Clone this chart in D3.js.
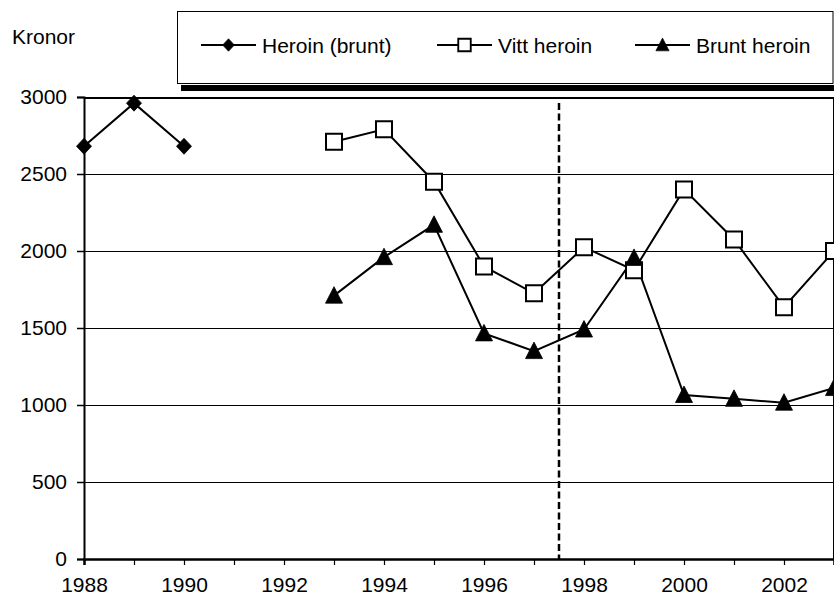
<!DOCTYPE html>
<html>
<head>
<meta charset="utf-8">
<script src="https://cdn.jsdelivr.net/npm/d3@7"></script>
<style>
  body { margin: 0; background: #fff; }
  svg { display: block; font-family: "Liberation Sans", Arial, sans-serif; }
</style>
</head>
<body>
<svg id="chart" width="834" height="598"></svg>
<script>
// data
const yearsEarly = [1988, 1989, 1990]
const heroinBrunt = [2680, 2960, 2680]

const yearsLate = [1993, 1994, 1995, 1996, 1997, 1998, 1999, 2000, 2001, 2002, 2003]
const vittHeroin = [2710, 2790, 2450, 1900, 1725, 2025, 1875, 2400, 2075, 1635, 2000]
const bruntHeroin = [1710, 1960, 2170, 1465, 1350, 1490, 1955, 1065, 1040, 1015, 1110]

const yTicks = [0, 500, 1000, 1500, 2000, 2500, 3000]
const xLabels = [1988, 1990, 1992, 1994, 1996, 1998, 2000, 2002]
const dividerYear = 1997.5

const legendNames = ['Heroin (brunt)', 'Vitt heroin', 'Brunt heroin']

const FONT = '"Liberation Sans", Arial, sans-serif'
const FS = 21

const svg = d3.select('#chart')
const m = { left: 84, right: 834, top: 97, bottom: 559 }

const x = d3.scaleLinear().domain([1988, 2003]).range([m.left, m.left + 750])
const y = d3.scaleLinear().domain([0, 3000]).range([m.bottom, m.top])

// grid
svg.append('g')
  .attr('shape-rendering', 'crispEdges')
  .selectAll('line')
  .data(yTicks.filter(d => d > 0))
  .enter().append('line')
  .attr('x1', m.left).attr('x2', m.right)
  .attr('y1', d => Math.round(y(d)) + 0.5).attr('y2', d => Math.round(y(d)) + 0.5)
  .attr('stroke', '#000').attr('stroke-width', d => d === 3000 ? 2 : 1)

// right frame
svg.append('line')
  .attr('x1', x(2003) - 0.5).attr('x2', x(2003) - 0.5)
  .attr('y1', m.top).attr('y2', m.bottom)
  .attr('stroke', '#000').attr('stroke-width', 1)

// y axis
const yAxis = svg.append('g')
  .attr('transform', `translate(${m.left},0)`)
  .call(d3.axisLeft(y).tickValues(yTicks).tickSize(7).tickPadding(10).tickFormat(d3.format('d')))
yAxis.select('.domain').attr('stroke-width', 2)
yAxis.selectAll('.tick line').attr('stroke-width', 1.5)
yAxis.selectAll('text').attr('font-size', FS).attr('fill', '#000').attr('font-family', FONT)

// x axis
const xAxis = svg.append('g')
  .attr('transform', `translate(0,${m.bottom})`)
  .call(d3.axisBottom(x).tickValues(d3.range(1988, 2004)).tickSize(6).tickPadding(12)
    .tickFormat(d => xLabels.includes(d) ? d : ''))
xAxis.select('.domain').attr('stroke-width', 2.5)
xAxis.selectAll('.tick line').attr('stroke-width', 1.2)
xAxis.selectAll('text').attr('font-size', FS).attr('fill', '#000').attr('font-family', FONT)

// dashed divider
svg.append('line')
  .attr('x1', x(dividerYear)).attr('x2', x(dividerYear))
  .attr('y1', m.top + 6).attr('y2', m.bottom)
  .attr('stroke', '#000').attr('stroke-width', 2.5)
  .attr('stroke-dasharray', '7,3.5')

const line = d3.line().x(d => x(d[0])).y(d => y(d[1]))

const s1 = yearsEarly.map((yr, i) => [yr, heroinBrunt[i]])
const s2 = yearsLate.map((yr, i) => [yr, vittHeroin[i]])
const s3 = yearsLate.map((yr, i) => [yr, bruntHeroin[i]])

;[s1, s2, s3].forEach(s => {
  svg.append('path').datum(s).attr('d', line)
    .attr('fill', 'none').attr('stroke', '#000').attr('stroke-width', 2)
})

const diamond = 'M0,-8L7.5,0L0,8L-7.5,0Z'
const square = 'M-8,-8H8V8H-8Z'
const triangle = 'M0,-9L8.5,7.5L-8.5,7.5Z'

function markers(data, path, fill) {
  svg.append('g').selectAll('path')
    .data(data).enter().append('path')
    .attr('d', path)
    .attr('transform', d => `translate(${x(d[0])},${y(d[1])})`)
    .attr('fill', fill).attr('stroke', '#000').attr('stroke-width', fill === '#fff' ? 2 : 0.8)
}
markers(s2, square, '#fff')
markers(s3, triangle, '#000')
markers(s1, diamond, '#000')

// Kronor label
svg.append('text').attr('x', 12).attr('y', 44).attr('font-size', FS).text('Kronor')

// legend
const lg = svg.append('g')
lg.append('rect').attr('x', 181).attr('y', 85).attr('width', 660).attr('height', 6).attr('fill', '#000')
lg.append('rect').attr('x', 177.5).attr('y', 11.5).attr('width', 655.5).attr('height', 72)
  .attr('fill', '#fff').attr('stroke', '#000').attr('stroke-width', 1)

const legendX = [201, 437, 635]
const legendMarkers = [diamond, square, triangle]
const legendFill = ['#000', '#fff', '#000']
legendNames.forEach((name, i) => {
  const g = lg.append('g').attr('transform', `translate(${legendX[i]},45)`)
  g.append('line').attr('x1', 0).attr('x2', 55).attr('stroke', '#000').attr('stroke-width', 2)
  g.append('path').attr('d', legendMarkers[i]).attr('transform', 'translate(27.5,0) scale(0.78)')
    .attr('fill', legendFill[i]).attr('stroke', '#000').attr('stroke-width', i === 1 ? 2.4 : 0.8)
  g.append('text').attr('x', 61).attr('y', 7.5).attr('font-size', FS).text(name)
})
</script>
</body>
</html>
